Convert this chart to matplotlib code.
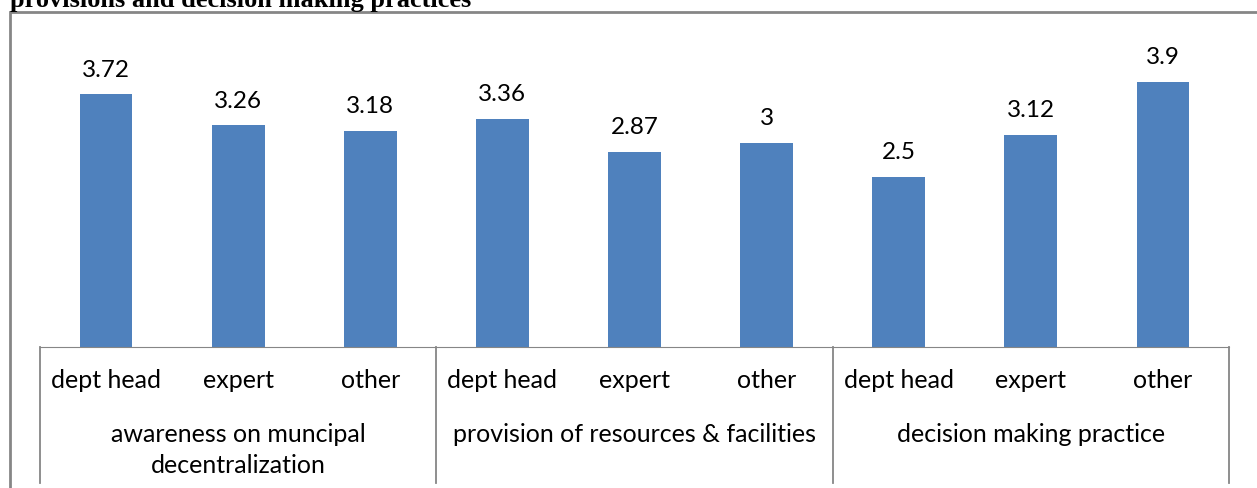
import matplotlib.pyplot as plt
from matplotlib.patches import Rectangle
from matplotlib.transforms import blended_transform_factory

groups = ['awareness on muncipal\ndecentralization',
          'provision of resources & facilities',
          'decision making practice']
roles = ['dept head', 'expert', 'other']
values = [3.72, 3.26, 3.18, 3.36, 2.87, 3, 2.5, 3.12, 3.9]

W, H = 1257, 489
fig = plt.figure(figsize=(W / 100, H / 100), dpi=100)
plt.rcParams['font.family'] = ['Lato', 'DejaVu Sans']

# outer chart border (partly cut off at right/bottom)
fig.patches.append(Rectangle((10 / W, -0.1), 1.1, (H - 13) / H + 0.1,
                             transform=fig.transFigure, fill=False,
                             edgecolor='#868686', linewidth=2))
fig.text(10 / W, 1 - 7 / H, 'provisions and decision making practices',
         family='Liberation Serif', weight='bold', fontsize=19, va='baseline')

ax_l, ax_r, ax_t, ax_b = 40, 1229, 42, 348
ax = fig.add_axes([ax_l / W, 1 - ax_b / H, (ax_r - ax_l) / W, (ax_b - ax_t) / H])

x = list(range(len(values)))
bars = ax.bar(x, values, width=0.4, color='#4F81BD')
for xi, v in zip(x, values):
    ax.annotate(f'{v:g}', (xi, v), xytext=(0, 18), textcoords='offset points',
                ha='center', va='center', fontsize=17.5)

ax.set_xlim(-0.5, len(values) - 0.5)
ax.set_ylim(0, 4.5)
ax.set_yticks([])
ax.set_xticks([])
for s in ['left', 'right', 'top']:
    ax.spines[s].set_visible(False)
ax.spines['bottom'].set_color('#868686')

trans = blended_transform_factory(ax.transData, ax.transAxes)
h = ax_b - ax_t
for i, r in enumerate(roles * len(groups)):
    ax.text(i, -33 / h, r, transform=trans, ha='center', va='center', fontsize=18)
for g, name in enumerate(groups):
    if '\n' in name:
        ax.text(g * 3 + 1, -102 / h, name, transform=trans, ha='center', va='center',
                fontsize=18, linespacing=1.4)
    else:
        ax.text(g * 3 + 1, -87 / h, name, transform=trans, ha='center', va='center',
                fontsize=18)
for b in range(len(groups) + 1):
    ax.plot([b * 3 - 0.5, b * 3 - 0.5], [0, -136 / h], transform=trans,
            color='#868686', linewidth=1.3, clip_on=False)

fig.savefig('out.png', dpi=100)
